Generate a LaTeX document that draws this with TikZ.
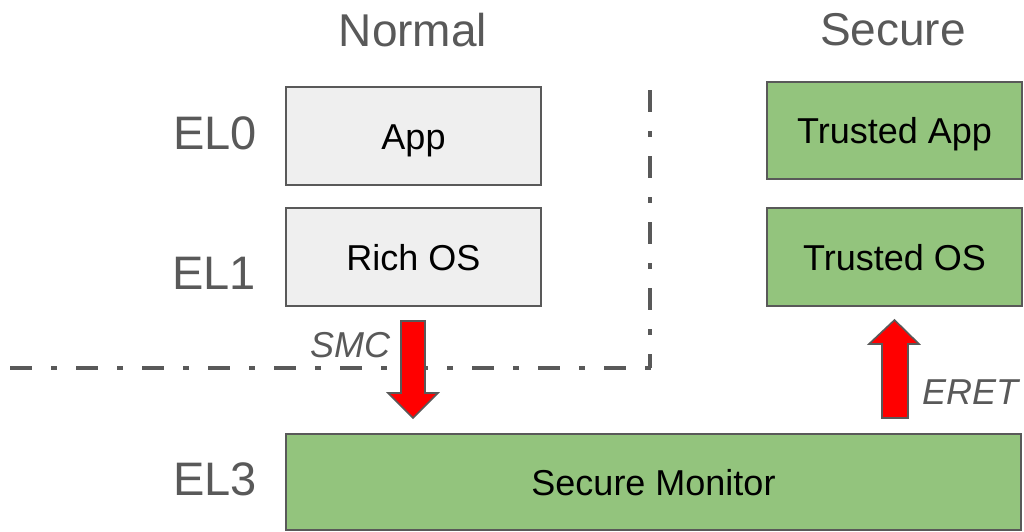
\documentclass[tikz,border=0pt]{standalone}
\usepackage{fontspec}
\setmainfont{Liberation Sans}
\definecolor{linegray}{HTML}{595959}
\definecolor{boxgray}{HTML}{EFEFEF}
\definecolor{boxgreen}{HTML}{93C47D}
\definecolor{arrowred}{HTML}{FF0000}
\begin{document}
\begin{tikzpicture}[x=1pt,y=-1pt,
  box/.style={draw=linegray, line width=1.8pt, inner sep=0pt, font=\fontsize{36}{40}\selectfont, text=black, text height=26pt, text depth=0pt},
  graybox/.style={box, fill=boxgray},
  greenbox/.style={box, fill=boxgreen},
  title/.style={inner sep=0pt, text=linegray, font=\fontsize{46}{50}\selectfont},
  level/.style={inner sep=0pt, text=linegray, font=\fontsize{47}{50}\selectfont},
  lbl/.style={inner sep=0pt, text=linegray, font=\fontsize{36}{40}\selectfont\itshape},
  divider/.style={draw=linegray, line width=4.5pt, dash pattern=on 22pt off 19pt on 6pt off 19pt},
  blockarrow/.style={fill=arrowred, draw=linegray, line width=1.6pt, line join=miter}
]
\useasboundingbox (0,0) rectangle (1024,531);
% titles
\node[title] (normal) at (413,30) {Normal};
\node[title] (secure) at (893,30) {Secure};
\node[level] (el0) at (215,133) {EL0};
\node[level] (el1) at (214,273.5) {EL1};
\node[level] (el3) at (215,479.5) {EL3};
% boxes
\node[graybox, minimum width=255, minimum height=98] (app) at (413.5,136) {App};
\node[graybox, minimum width=255, minimum height=98] (richos) at (413.5,257) {Rich OS};
\node[greenbox, minimum width=255, minimum height=97] (tapp) at (894.5,130.5) {Trusted App};
\node[greenbox, minimum width=255, minimum height=98] (tos) at (894.5,257) {Trusted OS};
\node[greenbox, minimum width=735, minimum height=96] (mon) at (653.5,482) {Secure Monitor};
% divider lines
\coordinate (vtop) at (650,90);
\coordinate (corner) at (650,368);
\coordinate (hleft) at (10,368);
\coordinate (hright) at (652,368);
\draw[divider] (vtop) -- (corner);
\draw[divider] (hleft) -- (hright);
% SMC arrow
\draw[blockarrow] (401,321) -- (425,321) -- (425,393) -- (438,393) -- (413,418) -- (388,393) -- (401,393) -- cycle;
\node[lbl] (smc) at (350,345) {SMC};
% ERET arrow
\draw[blockarrow] (882,418) -- (908,418) -- (908,344) -- (919,344) -- (894.5,320) -- (869,344) -- (882,344) -- cycle;
\node[lbl] (eret) at (970,392) {ERET};
\end{tikzpicture}
\end{document}
